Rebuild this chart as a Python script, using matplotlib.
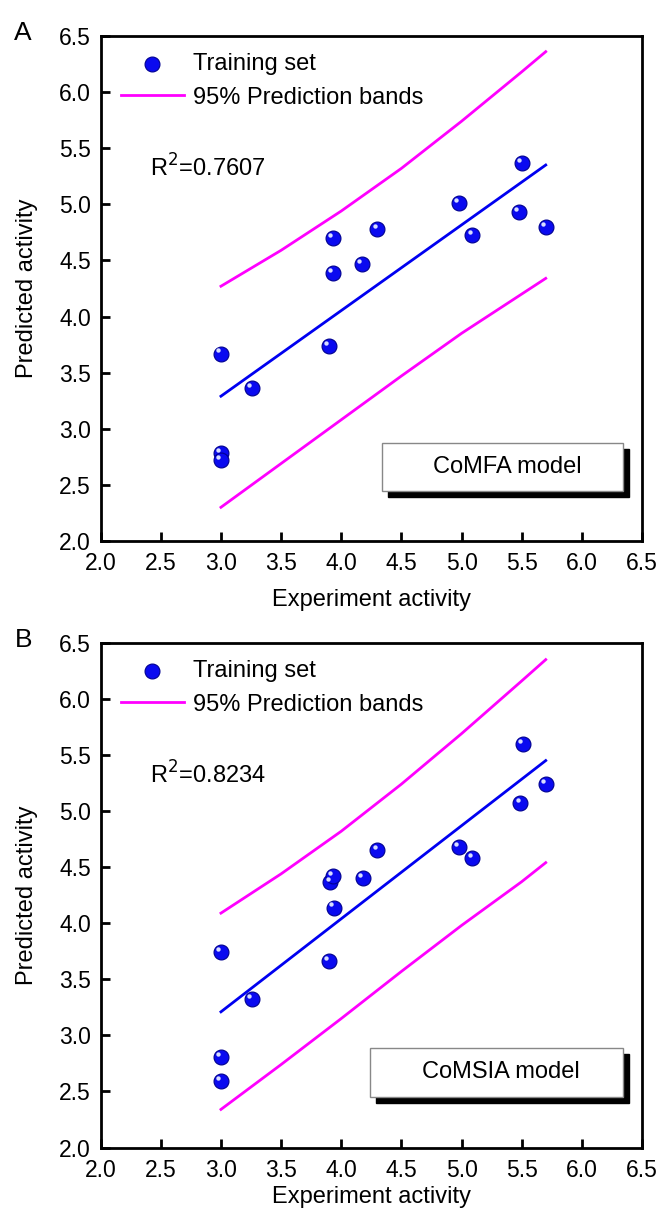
import numpy as np
import matplotlib.pyplot as plt
from matplotlib.patches import Rectangle
from matplotlib.transforms import ScaledTranslation

plt.rcParams['font.family'] = ['Liberation Sans', 'DejaVu Sans']

# Panel A (CoMFA)
exp_a = [3.0, 3.0, 3.0, 3.26, 3.90, 3.93, 3.93, 4.17, 4.30, 4.98, 5.09, 5.48, 5.50, 5.70]
pred_a = [3.67, 2.78, 2.72, 3.36, 3.74, 4.70, 4.39, 4.47, 4.78, 5.01, 4.73, 4.93, 5.37, 4.80]
fit_x_a = [3.0, 5.7]
fit_y_a = [3.29, 5.35]
band_x = [3.0, 3.5, 4.0, 4.5, 5.0, 5.5, 5.7]
upper_a = [4.27, 4.59, 4.94, 5.32, 5.74, 6.18, 6.36]
lower_a = [2.30, 2.69, 3.08, 3.47, 3.85, 4.20, 4.34]

# Panel B (CoMSIA)
exp_b = [3.0, 3.0, 3.0, 3.26, 3.90, 3.91, 3.93, 3.94, 4.18, 4.30, 4.98, 5.09, 5.49, 5.51, 5.70]
pred_b = [3.74, 2.81, 2.59, 3.32, 3.66, 4.37, 4.42, 4.14, 4.40, 4.65, 4.68, 4.58, 5.07, 5.60, 5.24]
fit_x_b = [3.0, 5.7]
fit_y_b = [3.21, 5.45]
upper_b = [4.09, 4.44, 4.82, 5.24, 5.69, 6.16, 6.35]
lower_b = [2.34, 2.74, 3.15, 3.57, 3.98, 4.37, 4.54]

ticks = [2.0, 2.5, 3.0, 3.5, 4.0, 4.5, 5.0, 5.5, 6.0, 6.5]
fs = 16.5

fig = plt.figure(figsize=(6.61, 12.11), dpi=100)
ax_a = fig.add_axes([0.1523, 0.5533, 0.8189, 0.417])
ax_b = fig.add_axes([0.1523, 0.0524, 0.8189, 0.4168])

panels = [
    (ax_a, exp_a, pred_a, fit_x_a, fit_y_a, upper_a, lower_a, 'R$^2$=0.7607', 'CoMFA model', 'A', (4.34, 2.445, 2.0, 0.425), 10),
    (ax_b, exp_b, pred_b, fit_x_b, fit_y_b, upper_b, lower_b, 'R$^2$=0.8234', 'CoMSIA model', 'B', (4.235, 2.45, 2.11, 0.44), 3),
]

for ax, ex, pr, fx, fy, up, lo, r2, model, letter, box, xpad in panels:
    line_band, = ax.plot(band_x, up, color='#ff00ff', lw=2.0)
    ax.plot(band_x, lo, color='#ff00ff', lw=2.0)
    ax.plot(fx, fy, color='#0000f0', lw=2.0)
    pts = ax.scatter(ex, pr, s=115, color='#0a0af0', edgecolor='#000090', linewidth=0.8, zorder=5)
    # little highlight to look like a sphere
    hl = ScaledTranslation(-2.0 / 72, 2.2 / 72, fig.dpi_scale_trans)
    ax.scatter(ex, pr, s=10, color='#d8deff', linewidth=0, zorder=6,
               transform=ax.transData + hl)

    ax.set_xlim(2.0, 6.5)
    ax.set_ylim(2.0, 6.5)
    ax.set_xticks(ticks)
    ax.set_yticks(ticks)
    ax.set_xticklabels(['%.1f' % t for t in ticks])
    ax.set_yticklabels(['%.1f' % t for t in ticks])
    ax.tick_params(direction='in', length=6.5, width=2, labelsize=fs, pad=7,
                   top=False, right=False)
    ax.tick_params(axis='x', pad=8)
    for sp in ax.spines.values():
        sp.set_linewidth(2)

    ax.set_xlabel('Experiment activity', fontsize=17, labelpad=xpad)
    ax.set_ylabel('Predicted activity', fontsize=17, labelpad=15)

    leg = ax.legend([pts, line_band], ['Training set', '95% Prediction bands'],
                    loc='upper left', bbox_to_anchor=(0.037, 0.966), frameon=False,
                    fontsize=17, handlelength=2.67, handletextpad=0.41,
                    labelspacing=0.49, borderpad=0, borderaxespad=0, scatterpoints=1)

    ax.text(2.41, 5.32, r2, fontsize=17, ha='left', va='center')

    bx, by, bw, bh = box
    ax.add_patch(Rectangle((bx + 0.05, by - 0.055), bw, bh, facecolor='black',
                           edgecolor='black', zorder=7))
    ax.add_patch(Rectangle((bx, by), bw, bh, facecolor='white',
                           edgecolor='#888888', lw=1, zorder=8))
    ax.text(bx + bw / 2 + 0.04, by + bh / 2, model, fontsize=17, ha='center',
            va='center', zorder=9)

    ax.text(-0.143, 1.006, letter, transform=ax.transAxes, fontsize=19,
            ha='center', va='center')

fig.savefig('out.png', dpi=100)
